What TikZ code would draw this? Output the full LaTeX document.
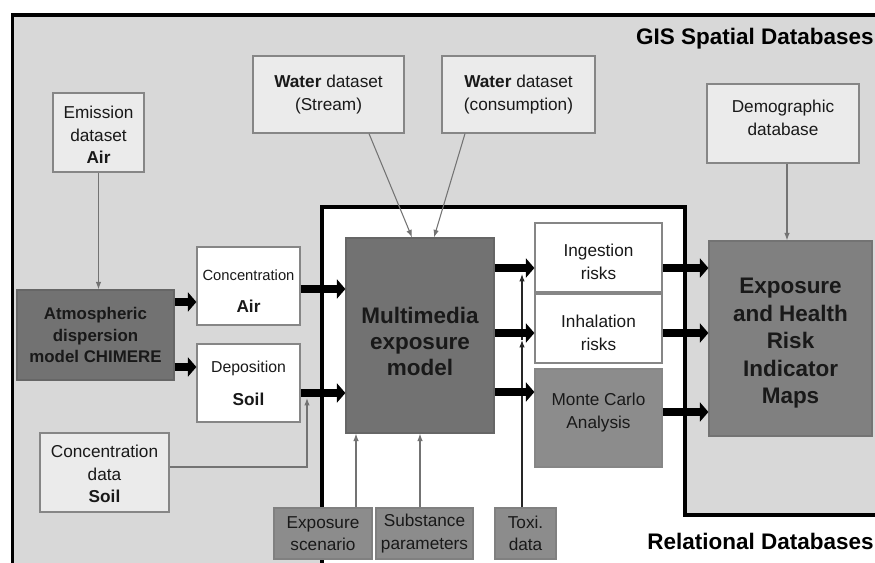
\documentclass[tikz,border=0pt]{standalone}
\usepackage{fontspec}
\setmainfont{Liberation Sans}
\usetikzlibrary{arrows.meta}
\definecolor{bggray}{HTML}{D8D8D8}
\definecolor{lightbox}{HTML}{EBEBEB}
\definecolor{darkbox}{HTML}{727272}
\definecolor{mapbox}{HTML}{808080}
\definecolor{lowbox}{HTML}{8C8C8C}
\definecolor{edgegray}{HTML}{868686}

\begin{document}
\begin{tikzpicture}[x=0.02cm,y=-0.02cm,
    box/.style={draw=edgegray,line width=0.7pt,align=center,inner sep=0pt,text=black!90,
        font=\fontsize{9.8}{12.7}\selectfont},
    databox/.style={box,fill=lightbox},
    resultbox/.style={box,fill=white},
    modelbox/.style={box,fill=darkbox,draw=black!60},
    bigfont/.style={font=\bfseries\fontsize{12.8}{15}\selectfont},
    bigarrow/.style={line width=0.16cm,-{Triangle[length=0.17cm,width=0.38cm]}},
    thinarrow/.style={draw=black!55,line width=0.6pt,-{Latex[length=0.15cm,width=0.11cm]}}]
    \useasboundingbox (0,0) rectangle (875,563);
    \clip (0,0) rectangle (875,563);
    \draw[fill=bggray,line width=0.08cm] (12.5,15.5) rectangle (895,590);
    \draw[fill=white,line width=0.07cm] (322,207) -- (685,207) -- (685,515) -- (895,515) -- (895,590) -- (322,590) -- cycle;
    \node[bigfont,anchor=east,inner sep=0pt] (gis) at (874,38.5) {GIS Spatial Databases};
    \node[bigfont,anchor=east,inner sep=0pt] (rel) at (874,541) {Relational Databases};

    \node[databox,minimum width=1.82cm,minimum height=1.58cm] (emis) at (98.5,132.5) {\\[-3pt]Emission\\dataset\\\textbf{Air}};
    \node[databox,minimum width=3.02cm,minimum height=1.54cm] (wstream) at (328.5,94.5) {\textbf{Water} dataset\\(Stream)};
    \node[databox,minimum width=3.06cm,minimum height=1.54cm] (wcons) at (518.5,94.5) {\textbf{Water} dataset\\(consumption)};
    \node[databox,minimum width=3.04cm,minimum height=1.58cm] (demo) at (783,123.5) {Demographic\\database\\[-6.3pt]};
    \node[databox,minimum width=2.58cm,minimum height=1.58cm] (csoil) at (104.5,472.5) {\\[-4pt]Concentration\\data\\\textbf{Soil}};
    \node[modelbox,minimum width=3.14cm,minimum height=1.8cm,font=\bfseries\fontsize{9.6}{12}\selectfont] (atmo) at (95.5,335) {Atmospheric\\dispersion\\model CHIMERE};
    \node[resultbox,minimum width=2.06cm,minimum height=1.56cm] (cair) at (248.5,286) {\\[-0.8pt]{\fontsize{8.4}{10}\selectfont Concentration}\\[6pt]\textbf{Air}};
    \node[resultbox,minimum width=2.06cm,minimum height=1.56cm] (dsoil) at (248.5,383) {{\fontsize{9}{10}\selectfont Deposition}\\[6pt]\textbf{Soil}};
    \node[modelbox,bigfont,minimum width=2.96cm,minimum height=3.9cm] (multi) at (420,335.5) {\\[1pt]Multimedia\\exposure\\model};
    \node[resultbox,minimum width=2.54cm,minimum height=1.38cm] (ingest) at (598.5,257.5) {\\[-0.8pt]Ingestion\\risks};
    \node[resultbox,minimum width=2.54cm,minimum height=1.38cm] (inhal) at (598.5,328.5) {\\[-0.8pt]Inhalation\\risks};
    \node[modelbox,fill=lowbox,draw=edgegray,minimum width=2.54cm,minimum height=1.96cm] (monte) at (598.5,418) {Monte Carlo\\Analysis\\[-4.3pt]};
    \node[modelbox,fill=mapbox,draw=black!55,minimum width=3.26cm,minimum height=3.9cm,
        font=\bfseries\fontsize{12.8}{15.6}\selectfont] (maps) at (790.5,338.5) {\\[-1.2pt]Exposure\\and Health\\Risk\\Indicator\\Maps};
    \node[modelbox,fill=lowbox,draw=black!50,minimum width=1.96cm,minimum height=1.02cm] (scen) at (323,533.5) {Exposure\\scenario};
    \node[modelbox,fill=lowbox,draw=black!50,minimum width=1.94cm,minimum height=1.02cm] (subst) at (424.5,533.5) {Substance\\parameters};
    \node[modelbox,fill=lowbox,draw=black!50,minimum width=1.22cm,minimum height=1.02cm] (toxi) at (525.5,533.5) {Toxi.\\data};

    \draw[thinarrow] (emis.south) -- (atmo.north -| emis.south);
    \draw[thinarrow] (wstream.south -| 369,0) -- (multi.north -| 412,0);
    \draw[thinarrow] (wcons.south -| 465,0) -- (multi.north -| 434,0);
    \draw[thinarrow] (demo.south -| 787,0) -- (maps.north -| 787,0);
    \draw[thinarrow] (scen.north -| 356,0) -- (multi.south -| 356,0);
    \draw[thinarrow] (subst.north -| 420,0) -- (multi.south -| 420,0);
    \coordinate (tox) at ([xshift=-0.07cm]toxi.north);
    \draw[thinarrow,draw=black!85] (tox) -- (tox |- 0,340);
    \draw[thinarrow,draw=black!85] (tox |- 0,340) -- (tox |- 0,274);
    \coordinate (dsin) at (307,398);
    \draw[thinarrow] (csoil.east |- 0,467) -| (dsin);

    \draw[bigarrow] (atmo.east |- 0,302) -- (cair.west |- 0,302);
    \draw[bigarrow] (atmo.east |- 0,367) -- (dsoil.west |- 0,367);
    \draw[bigarrow] (cair.east |- 0,289) -- (multi.west |- 0,289);
    \draw[bigarrow] (dsoil.east |- 0,393) -- (multi.west |- 0,393);
    \draw[bigarrow] (multi.east |- 0,268) -- (ingest.west |- 0,268);
    \draw[bigarrow] (multi.east |- 0,333) -- (inhal.west |- 0,333);
    \draw[bigarrow] (multi.east |- 0,392) -- (monte.west |- 0,392);
    \draw[bigarrow] (ingest.east |- 0,268) -- (maps.west |- 0,268);
    \draw[bigarrow] (inhal.east |- 0,333) -- (maps.west |- 0,333);
    \draw[bigarrow] (monte.east |- 0,412) -- (maps.west |- 0,412);
\end{tikzpicture}
\end{document}
